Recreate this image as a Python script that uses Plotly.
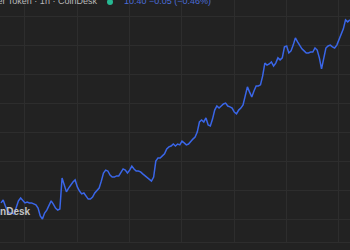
import plotly.graph_objects as go

# Hourly index (hours) and closing prices
hours = list(range(13, 174))
prices = [
    9.759, 9.769, 9.748, 9.731, 9.724, 9.724, 9.721, 9.745, 9.766, 9.776,
    9.766, 9.759, 9.762, 9.759, 9.759, 9.755, 9.752, 9.741, 9.714, 9.703,
    9.724, 9.734, 9.752, 9.766, 9.755, 9.741, 9.734, 9.738, 9.845, 9.817,
    9.797, 9.810, 9.821, 9.831, 9.838, 9.814, 9.800, 9.790, 9.793, 9.783,
    9.772, 9.772, 9.779, 9.793, 9.803, 9.810, 9.834, 9.862, 9.872, 9.869,
    9.855, 9.848, 9.848, 9.852, 9.852, 9.866, 9.876, 9.872, 9.862, 9.872,
    9.886, 9.876, 9.869, 9.869, 9.866, 9.859, 9.852, 9.845, 9.841, 9.834,
    9.848, 9.903, 9.914, 9.914, 9.921, 9.928, 9.945, 9.952, 9.955, 9.962,
    9.955, 9.962, 9.959, 9.972, 9.966, 9.959, 9.962, 9.972, 9.979, 9.986,
    10.003, 10.038, 10.045, 10.038, 10.052, 10.028, 10.024, 10.048, 10.079, 10.093,
    10.086, 10.093, 10.100, 10.103, 10.093, 10.090, 10.086, 10.072, 10.066, 10.079,
    10.086, 10.097, 10.128, 10.159, 10.141, 10.124, 10.145, 10.162, 10.162, 10.166,
    10.197, 10.241, 10.234, 10.238, 10.245, 10.231, 10.241, 10.259, 10.252, 10.259,
    10.297, 10.300, 10.276, 10.283, 10.303, 10.328, 10.314, 10.300, 10.290, 10.283,
    10.276, 10.276, 10.279, 10.279, 10.293, 10.286, 10.259, 10.221, 10.259, 10.293,
    10.300, 10.303, 10.297, 10.293, 10.303, 10.321, 10.345, 10.359, 10.390, 10.383,
    10.390,
]

title_text = "Render Token · 1h · CoinDesk"
quote_text = "10.40 −0.05 (−0.46%)"
watermark_text = "CoinDesk"

BG = "#222222"
GRID = "#2d2d2d"
W, H = 350, 250
MB = 8
plot_h = H - MB

fig = go.Figure()
fig.add_trace(go.Scatter(
    x=hours, y=prices, mode="lines",
    line=dict(color="#3a66e8", width=1.5),
    hoverinfo="skip",
))

fig.update_layout(
    width=W, height=H,
    margin=dict(l=0, r=0, t=0, b=MB),
    paper_bgcolor=BG, plot_bgcolor=BG,
    showlegend=False,
    xaxis=dict(range=[12.54, 173.05], tick0=0, dtick=24, showgrid=True,
               gridcolor=GRID, gridwidth=1, zeroline=False, showticklabels=False,
               ticks="", showline=True, linecolor=GRID, linewidth=1),
    yaxis=dict(range=[9.6241, 10.4586], tick0=9.6, dtick=0.1, showgrid=True,
               gridcolor=GRID, gridwidth=1, zeroline=False, showticklabels=False,
               ticks=""),
)

# header text (cropped at top/left in the reference)
fig.add_annotation(text=title_text, xref="paper", yref="paper",
                   x=99 / W, y=(plot_h - 1) / plot_h,
                   xanchor="right", yanchor="middle", showarrow=False,
                   font=dict(family="Liberation Sans, Arial", size=9, color="#b8b8b8"))
fig.add_annotation(text=quote_text, xref="paper", yref="paper",
                   x=122 / W, y=(plot_h - 1) / plot_h,
                   xanchor="left", yanchor="middle", showarrow=False,
                   font=dict(family="Liberation Sans, Arial", size=9, color="#4a6cd8"))
fig.add_shape(type="circle", xref="paper", yref="paper",
              x0=107 / W, x1=113 / W, y0=(plot_h - 5) / plot_h, y1=(plot_h + 1) / plot_h,
              fillcolor="#26b892", line=dict(width=0))

# watermark (cropped at left)
fig.add_annotation(text="<b>" + watermark_text + "</b>", xref="paper", yref="paper",
                   x=33 / W, y=(plot_h - 211) / plot_h,
                   xanchor="right", yanchor="middle", showarrow=False,
                   font=dict(family="Liberation Sans, Arial", size=10, color="#c4c4c4"))

fig.write_html("out.html", config={"displayModeBar": False})
